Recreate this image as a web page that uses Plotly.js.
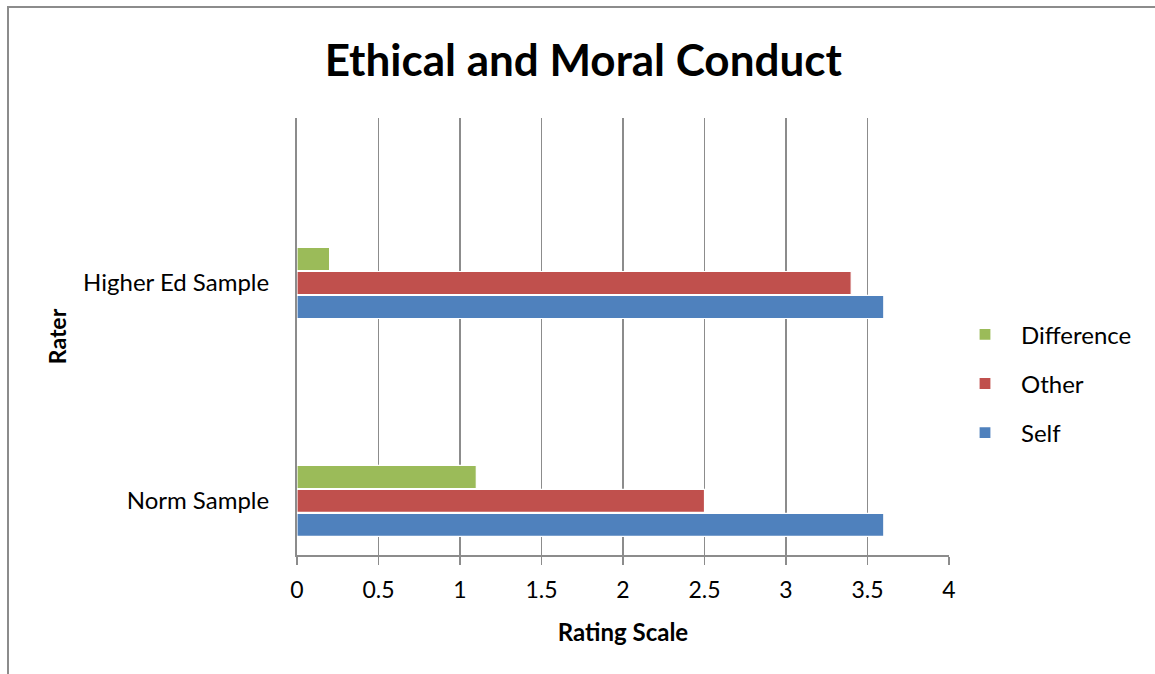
<!DOCTYPE html>
<html>
<head>
<meta charset="utf-8">
<script src="https://cdn.plot.ly/plotly-3.0.1.min.js"></script>
<style>
  html, body { margin: 0; padding: 0; background: #fff; }
  #frame { position: absolute; left: 7px; top: 6px; width: 1160px; height: 680px;
           border-top: 2px solid #8c8c8c; border-left: 2px solid #8c8c8c; pointer-events: none; z-index: 5; }
  #chart { position: absolute; left: 0; top: 0; width: 1155px; height: 674px; }
</style>
</head>
<body>
<div id="chart"></div>
<div id="frame"></div>
<script>
const categories = ["Norm Sample", "Higher Ed Sample"];
const selfValues = [3.6, 3.6];
const otherValues = [2.5, 3.4];
const differenceValues = [1.1, 0.2];
const xTickValues = [0, 0.5, 1, 1.5, 2, 2.5, 3, 3.5, 4];
const xTickLabels = ["0", "0.5", "1", "1.5", "2", "2.5", "3", "3.5", "4"];

const FONT = "Lato, 'Open Sans', sans-serif";

function mk(name, vals, color, rank) {
  return {
    type: "bar", orientation: "h", name: name, legendgroup: name, legendrank: rank,
    y: categories, x: vals,
    marker: { color: color, line: { color: "#ffffff", width: 1.2 } },
    hoverinfo: "x+name"
  };
}

const data = [
  mk("Self", selfValues, "#4f81bd", 3),
  mk("Other", otherValues, "#c0504d", 2),
  mk("Difference", differenceValues, "#9bbb59", 1)
];

const layout = {
  width: 1155, height: 674,
  margin: { l: 297, r: 206, t: 118, b: 119, autoexpand: false },
  paper_bgcolor: "#ffffff", plot_bgcolor: "#ffffff",
  font: { family: FONT, color: "#000000", size: 24 },
  title: { text: "<b>Ethical and Moral Conduct</b>", font: { family: FONT, size: 44, color: "#000" },
           x: 0.505, xanchor: "center", y: 0.91, yanchor: "middle" },
  barmode: "group",
  bargap: 0.67,
  bargroupgap: 0.04,
  xaxis: {
    range: [0, 4], tickvals: xTickValues, ticktext: xTickLabels,
    showgrid: true, gridcolor: "#8c8c8c", gridwidth: 1.5,
    showline: true, linecolor: "#8c8c8c", linewidth: 1.5,
    ticks: "outside", ticklen: 8, tickcolor: "#8c8c8c", tickwidth: 1.5,
    ticklabelstandoff: 6, automargin: false,
    zeroline: false, tickfont: { size: 23, family: FONT },
    title: { text: "<b>Rating Scale</b>", font: { size: 24, family: FONT }, standoff: 22 }
  },
  yaxis: {
    type: "category", range: [-0.248, 1.757], automargin: false,
    showgrid: false, showline: true, linecolor: "#8c8c8c", linewidth: 2,
    ticks: "", ticklen: 0, zeroline: false, ticklabelstandoff: 21,
    tickfont: { size: 24, family: FONT },
    title: { text: "<b>Rater</b>", font: { size: 23, family: FONT }, standoff: 10 }
  },
  legend: {
    x: 1.0, xanchor: "left", y: 0.392, yanchor: "middle",
    traceorder: "grouped", font: { size: 24, family: FONT },
    itemwidth: 62, tracegroupgap: 15, bgcolor: "rgba(0,0,0,0)"
  },
  showlegend: true
};

Plotly.newPlot("chart", data, layout, { displayModeBar: false, staticPlot: true });
</script>
</body>
</html>
